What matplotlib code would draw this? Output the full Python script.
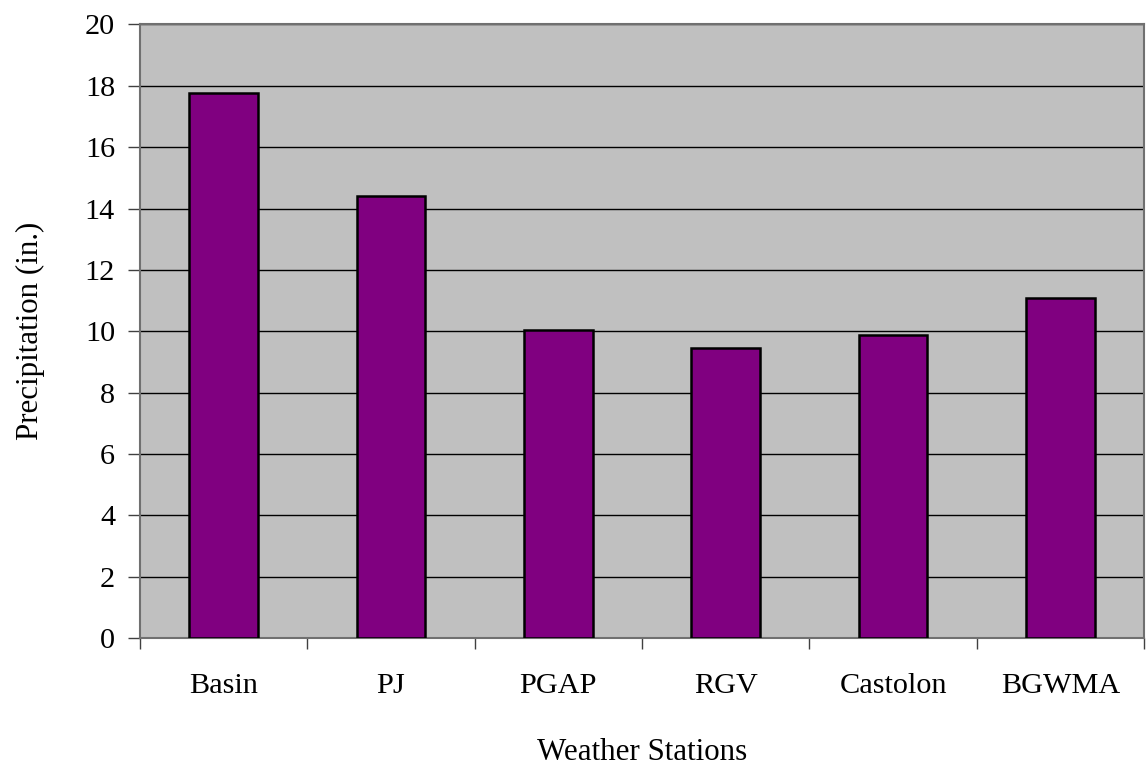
import numpy as np
import matplotlib
matplotlib.use('Agg')
import matplotlib.pyplot as plt

# annual precipitation by station (in.)
stations = ["Basin", "PJ", "PGAP", "RGV", "Castolon", "BGWMA"]
precip = [17.76, 14.41, 10.04, 9.46, 9.88, 11.10]
y_ticks = [0, 2, 4, 6, 8, 10, 12, 14, 16, 18, 20]

plt.rcParams['font.family'] = ['Liberation Serif', 'DejaVu Serif']

fig = plt.figure(figsize=(11.48, 7.65), dpi=100)
ax = fig.add_axes([0.122, 0.166, 0.8745, 0.802])
ax.set_facecolor("#C0C0C0")

x = np.arange(len(stations))
ax.bar(x, precip, width=0.41, color="#800080", edgecolor="black", linewidth=1.8, zorder=3)

ax.set_xlim(-0.5, len(stations) - 0.5)
ax.set_ylim(0, 20)
ax.set_yticks(y_ticks)
ax.yaxis.grid(True, color="black", linewidth=1.0, zorder=1)

# boundary ticks between categories, names centred under bars
ax.set_xticks(np.arange(len(stations) + 1) - 0.5)
ax.set_xticklabels([])
ax.set_xticks(x, minor=True)
ax.set_xticklabels(stations, minor=True)
ax.tick_params(axis="x", which="major", length=8, width=1, color="#404040")
ax.tick_params(axis="x", which="minor", length=0, pad=25, labelsize=21.8)
ax.tick_params(axis="y", length=9, width=1, color="#404040", pad=9, labelsize=21.8)

for side in ["left", "bottom", "top", "right"]:
    ax.spines[side].set_color("#707070")
    ax.spines[side].set_linewidth(1.5)

ax.set_xlabel("Weather Stations", fontsize=22.3, labelpad=28)
ax.set_ylabel("Precipitation (in.)", fontsize=22.3, labelpad=29)

plt.savefig("out.png", dpi=100)
plt.close()
